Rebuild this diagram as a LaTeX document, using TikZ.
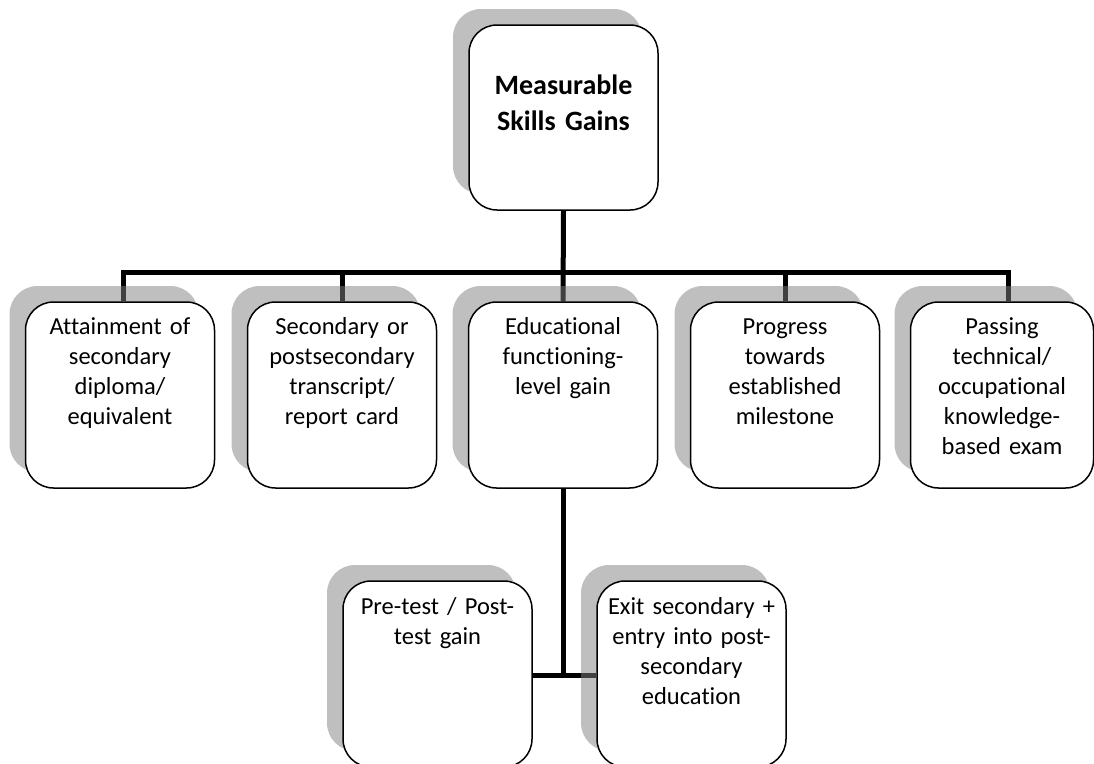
\documentclass[tikz,border=0pt]{standalone}
\usepackage{fontspec}
\setmainfont{Carlito}[Ligatures=NoCommon]
\usetikzlibrary{shadows,backgrounds}
\begin{document}
\begin{tikzpicture}[x=1pt,y=-1pt,
  box/.style={draw=black, line width=1.5pt, rounded corners=28pt, fill=white,
    inner sep=0pt, minimum width=189pt, minimum height=186pt,
    general shadow={fill=black!50, fill opacity=0.5, shadow xshift=-16pt, shadow yshift=16pt}},
  lbl/.style={text width=186pt, align=center, inner sep=0pt, anchor=base,
    font=\fontsize{24.5}{30}\selectfont},
  conn/.style={line width=5pt, line join=miter}]
\useasboundingbox (0,0) rectangle (1094,763);
% boxes
\node[box, minimum height=185pt] (top) at (563.5,117.5) {};
\node[box] (b1) at (120,395) {};
\node[box] (b2) at (342,395) {};
\node[box] (b3) at (563,395) {};
\node[box] (b4) at (785,395) {};
\node[box, minimum width=183pt] (b5) at (1002,395) {};
\node[box] (p1) at (437.5,674) {};
\node[box] (p2) at (691.5,674) {};
% texts
\node[lbl, font=\fontsize{28}{36}\selectfont\bfseries] (ttop) at (563.5,94) {Measurable\\Skills Gains};
\node[lbl] (t1) at (120,334) {Attainment of\\secondary\\diploma/\\equivalent};
\node[lbl] (t2) at (342,334) {Secondary or\\postsecondary\\transcript/\\report card};
\node[lbl] (t3) at (563,334) {Educational\\functioning-\\level gain};
\node[lbl] (t4) at (785,334) {Progress\\towards\\established\\milestone};
\node[lbl] (t5) at (1002,334) {Passing\\technical/\\occupational\\knowledge-\\based exam};
\node[lbl] (tp1) at (437.5,614) {Pre-test / Post-\\test gain};
\node[lbl] (tp2) at (691.5,614) {Exit secondary +\\entry into post-\\secondary\\education};
% connectors
\coordinate (bus) at (0,272);
\coordinate (j) at (0,675);
\begin{pgfonlayer}{background}
\draw[conn] (top.south) -- (b3.north);
\draw[conn] ([xshift=3pt]b1.north) -- ([xshift=3pt]b1.north |- bus) -- ([xshift=6pt]b5.north |- bus) -- ([xshift=6pt]b5.north);
\draw[conn] (b2.north) -- (b2.north |- bus);
\draw[conn] (b4.north) -- (b4.north |- bus);
\draw[conn] (b3.south) -- (b3.south |- j);
\draw[conn] (p1.east |- j) -- (p2.west |- j);
\end{pgfonlayer}
\end{tikzpicture}
\end{document}
